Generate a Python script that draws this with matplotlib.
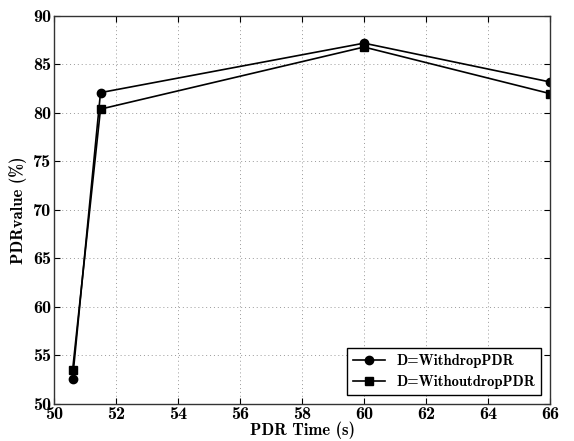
import matplotlib
matplotlib.use("Agg")
import matplotlib.pyplot as plt

plt.rcParams['font.family'] = 'cmb10'
plt.rcParams['axes.unicode_minus'] = False
plt.rcParams['mathtext.fontset'] = 'cm'

# data
pdr_time = [50.6, 51.5, 60, 66]
with_drop = [52.6, 82.1, 87.2, 83.2]
without_drop = [53.5, 80.4, 86.8, 82.0]
xticks = [50, 52, 54, 56, 58, 60, 62, 64, 66]
yticks = [50, 55, 60, 65, 70, 75, 80, 85, 90]

fig = plt.figure(figsize=(5.74, 4.41), dpi=100)
ax = fig.add_axes([54/574, 1-404/441, (550-54)/574, (404-16)/441])

ax.plot(pdr_time, with_drop, color='black', marker='o', markersize=6, lw=1.2, label='D=WithdropPDR')
ax.plot(pdr_time, without_drop, color='black', marker='s', markersize=6, lw=1.2, label='D=WithoutdropPDR')

ax.set_xlim(50, 66)
ax.set_ylim(50, 90)
ax.set_xticks(xticks)
ax.set_yticks(yticks)
ax.tick_params(direction='in', top=True, right=True, labelsize=13, length=4, pad=2)
ax.grid(True, linestyle=(0, (1, 3)), color='#999999', lw=0.7)
for s in ax.spines.values():
    s.set_linewidth(1.0)
    s.set_color('#333333')

ax.set_xlabel('PDR Time (s)', fontsize=12, labelpad=0)
ax.set_ylabel('PDRvalue (%)', fontsize=12, labelpad=4)

leg = ax.legend(loc='lower right', fontsize=10.5, fancybox=False, edgecolor='black',
                framealpha=1, borderaxespad=0.6, handlelength=2.2)
leg.get_frame().set_linewidth(1.0)

fig.savefig('out.png', dpi=100)
